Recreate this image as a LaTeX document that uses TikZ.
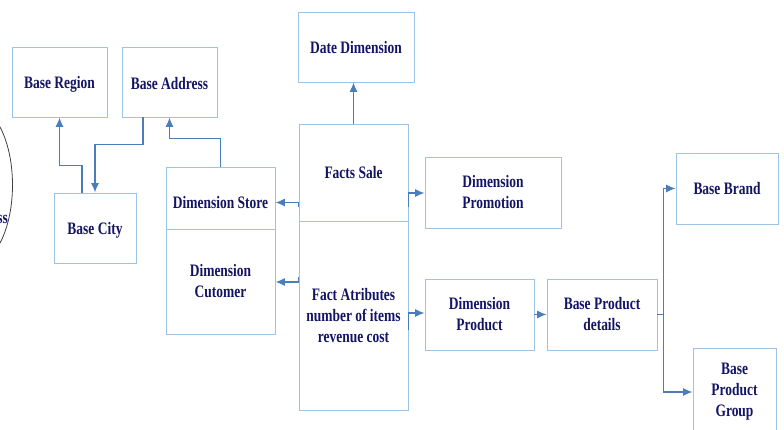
\documentclass[tikz,border=0pt]{standalone}
\usepackage{fontspec}
\setmainfont{Liberation Serif}[FakeStretch=0.77]
\usetikzlibrary{arrows.meta,calc}
\definecolor{boxline}{HTML}{9DC3E6}
\definecolor{wire}{HTML}{4A7EBB}
\definecolor{ink}{HTML}{141464}
% lower a label without changing the size the node sees
\newcommand\dropby[2]{\raisebox{-#1}[\height][\depth]{#2}}
\begin{document}
\begin{tikzpicture}[x=1pt,y=-1pt,
  box/.style={draw=boxline,line width=0.9pt,rectangle,inner sep=0pt,align=center,
    text=ink,font=\fontsize{17.5}{21}\selectfont\bfseries},
  conn/.style={draw=wire,line width=1.2pt,-{Latex[length=9.5pt,width=8pt]}},
  link/.style={draw=wire,line width=1.2pt}]
\useasboundingbox (0,0) rectangle (784,430);

% partial entity at the left edge
\draw[line width=0.8pt,black!75] (-27.5,185) ellipse [x radius=40,y radius=80];
\node[anchor=east,inner sep=0pt,text=ink,font=\fontsize{17.5}{21}\selectfont\bfseries] (business) at (8,218) {Business};

% boxes
\node[box,minimum width=95pt,minimum height=70pt] (region) at (59.5,82) {\dropby{2pt}{Base Region}};
\node[box,minimum width=95pt,minimum height=70pt] (address) at (169.5,82) {\dropby{2pt}{Base Address}};
\node[box,minimum width=82pt,minimum height=70pt] (city) at (95,228) {\dropby{2pt}{Base City}};
\node[box,minimum width=109pt,minimum height=62pt] (store) at (220.5,198) {\dropby{5pt}{Dimension Store}};
\node[box,minimum width=109pt,minimum height=105pt] (cust) at (220.5,281.5) {Dimension\\Cutomer};
\node[box,minimum width=109pt,minimum height=97pt] (facts) at (353.5,172.5) {Facts Sale};
\node[box,minimum width=109pt,minimum height=189pt] (attr) at (353.5,315.5) {Fact Atributes\\number of items\\revenue cost};
\node[box,minimum width=116pt,minimum height=70pt] (date) at (356,47) {\dropby{1pt}{Date Dimension}};
\node[box,minimum width=136pt,minimum height=71pt] (promo) at (493,192.5) {Dimension\\Promotion};
\node[box,minimum width=109pt,minimum height=71pt] (product) at (479.5,314.5) {Dimension\\Product};
\node[box,minimum width=110pt,minimum height=71pt] (details) at (602,314.5) {Base Product\\details};
\node[box,minimum width=102pt,minimum height=71pt] (brand) at (727,188.5) {Base Brand};
\node[box,minimum width=83pt,minimum height=88pt] (group) at (734.5,392) {Base\\Product\\Group};

% connectors
\draw[conn] ($(city.north)+(-13,0)$) -- ++(0,-27) -| (region.south);
\draw[conn] ($(address.south)+(-26.5,0)$) -- ++(0,27) -| (city.north);
\draw[conn] (store.north) -- ++(0,-28) -| (address.south);
\draw[conn] (facts.north) -- (facts.north |- date.south);
\draw[conn] ($(facts.west)+(0,34.5)$) -- ++(0,-4.5) coordinate (t1) -- (t1 -| store.east);
\draw[conn] ($(attr.west)+(0,-38.5)$) -- ++(0,5) coordinate (t2) -- (t2 -| cust.east);
\draw[conn] ($(facts.east)+(0,34.5)$) -- ++(0,-14) coordinate (t3) -- (t3 -| promo.west);
\draw[conn] ($(attr.east)+(0,14.5)$) -- ++(0,-17) coordinate (t4) -- (t4 -| product.west);
\draw[conn] (product.east) -- (details.west);
\draw[link] (details.east) -- ++(6,0) coordinate (j);
\draw[conn] (j) |- (brand.west);
\draw[conn] (j) |- (group.west);
\end{tikzpicture}
\end{document}
